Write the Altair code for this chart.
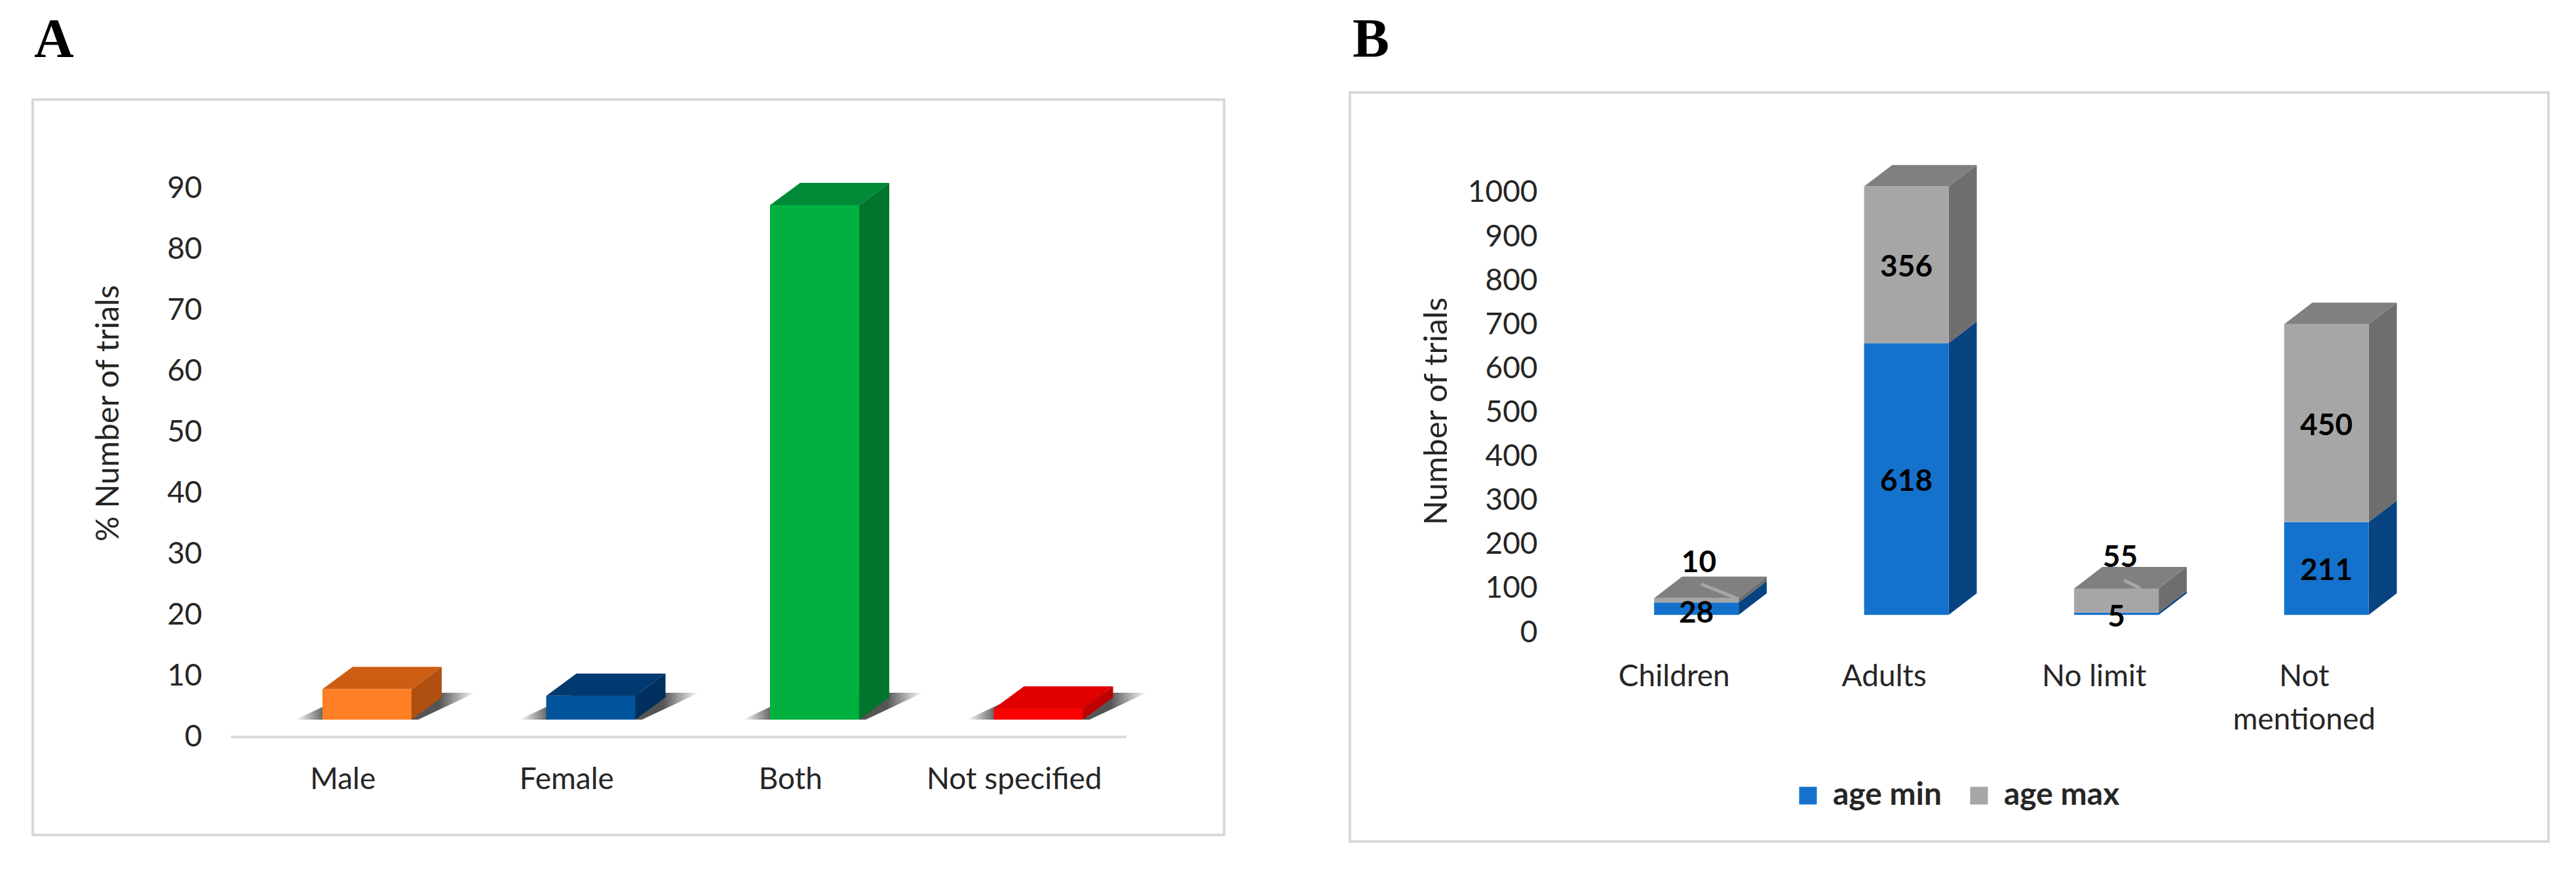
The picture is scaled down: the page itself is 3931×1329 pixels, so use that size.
import altair as alt
import pandas as pd

# ---------- data ----------
sex_categories = ["Male", "Female", "Both", "Not specified"]
sex_values = [5.0, 3.9, 84.4, 1.8]
sex_front = ["#FF7F24", "#00549B", "#00B140", "#FF0000"]
sex_top = ["#CC5E14", "#003A70", "#008A38", "#E00000"]
sex_side = ["#B05010", "#002F60", "#00752C", "#C00000"]

age_categories = ["Children", "Adults", "No limit", "Not mentioned"]
age_min = [28, 618, 5, 211]
age_max = [10, 356, 55, 450]
min_label_nudge = [-5, 0, -2.5, 0]
max_label_nudge = [91, 0, 103, 0]
max_label_x_nudge = [0.012, 0, 0.018, 0]
series_names = ["age min", "age max"]
series_colors = ["#1572CC", "#A6A6A6"]

FONT = "Lato"
LABEL = 46
GREY = "#D9D9D9"
TEXT = "#262626"


def faces(rows, left, width, dx, dy):
    """Side and top faces of one extruded bar stack."""
    out = []
    for i, (b, t, side) in enumerate(rows["segments"]):
        xr = rows["i"] + left + width
        name = f'{rows["i"]}-{i}'
        out += [
            dict(face=name + "s", shade=side, x=xr, low=b, high=t),
            dict(face=name + "s", shade=side, x=xr + dx, low=b + dy, high=t + dy),
        ]
    xl = rows["i"] + left
    xr = xl + width
    t = rows["segments"][-1][1]
    name = f'{rows["i"]}t'
    c = rows["top"]
    out += [
        dict(face=name, shade=c, x=xl, low=t, high=t),
        dict(face=name, shade=c, x=xl + dx, low=t, high=t + dy),
        dict(face=name, shade=c, x=xr, low=t, high=t + dy),
        dict(face=name, shade=c, x=xr + dx, low=t + dy, high=t + dy),
    ]
    return out


def frame(x1, x2, y1, y2):
    return alt.Chart(pd.DataFrame({"a": [0]})).mark_rect(
        fillOpacity=0, stroke=GREY, strokeWidth=4
    ).encode(x=alt.value(x1), x2=alt.value(x2), y=alt.value(y1), y2=alt.value(y2))


def letter(text, x, y):
    return alt.Chart(pd.DataFrame({"t": [text]})).mark_text(
        font="Liberation Serif", fontWeight="bold", fontSize=84, color="black",
        align="left", baseline="alphabetic",
    ).encode(text="t:N", x=alt.value(x), y=alt.value(y))


# ---------- panel A ----------
A_W, A_H = 1366, 837
a_x = alt.Scale(domain=[0, 4], nice=False, zero=False)
a_y = alt.Scale(domain=[0, 90], nice=False, zero=False)
A_LEFT, A_BAR, A_DX, A_DY, A_BASE = 0.41, 0.398, 0.135, 3.65, 2.8

a_front, a_faces, a_shadow = [], [], []
for i, v in enumerate(sex_values):
    a_front.append(dict(x=i + A_LEFT, x2=i + A_LEFT + A_BAR, y=A_BASE, y2=A_BASE + v, shade=sex_front[i]))
    a_faces += faces(dict(i=i, segments=[(A_BASE, A_BASE + v, sex_side[i])], top=sex_top[i]),
                     A_LEFT, A_BAR, A_DX, A_DY)
    l = i + A_LEFT - 0.12
    r = i + A_LEFT + A_BAR + 0.03
    s = 0.255
    a_shadow += [
        dict(b=i, x=l, low=A_BASE, high=A_BASE),
        dict(b=i, x=l + s, low=A_BASE, high=A_BASE + 4.4),
        dict(b=i, x=r, low=A_BASE, high=A_BASE + 4.4),
        dict(b=i, x=r + s, low=A_BASE + 4.4, high=A_BASE + 4.4),
    ]

a_axis_x = alt.Axis(
    values=[0.5, 1.5, 2.5, 3.5], title=None, grid=False, ticks=False,
    domainColor=GREY, domainWidth=4, labelFont=FONT, labelFontSize=LABEL, labelColor=TEXT,
    labelPadding=43, labelLimit=0, labelOverlap=False,
    labelExpr="['Male','Female','Both','Not specified'][floor(datum.value)]",
)
a_axis_y = alt.Axis(
    values=list(range(0, 100, 10)), title="% Number of trials", grid=False, ticks=False, domain=False,
    labelFont=FONT, labelFontSize=LABEL, labelColor=TEXT, labelPadding=44, format="d",
    titleFont=FONT, titleFontSize=48, titleFontWeight="normal", titleColor=TEXT,
    titleX=-186, titleY=343, titleBaseline="middle",
)

shadow_fill = alt.Gradient(
    gradient="linear", x1=0, x2=1, y1=0, y2=0,
    stops=[alt.GradientStop(offset=0, color="#FFFFFF"),
           alt.GradientStop(offset=0.17, color="#555555"),
           alt.GradientStop(offset=0.8, color="#555555"),
           alt.GradientStop(offset=1, color="#FFFFFF")],
)

a_shadow_layer = alt.Chart(pd.DataFrame(a_shadow)).mark_area(
    color=shadow_fill, orient="vertical", clip=False
).encode(
    x=alt.X("x:Q", scale=a_x, axis=a_axis_x),
    y=alt.Y("high:Q", scale=a_y, axis=a_axis_y),
    y2="low:Q",
    detail="b:N",
)
a_face_layer = alt.Chart(pd.DataFrame(a_faces)).mark_area(orient="vertical").encode(
    x=alt.X("x:Q", scale=a_x),
    y=alt.Y("high:Q", scale=a_y),
    y2="low:Q",
    detail="face:N",
    fill=alt.Fill("shade:N", scale=None),
)
a_front_layer = alt.Chart(pd.DataFrame(a_front)).mark_rect().encode(
    x=alt.X("x:Q", scale=a_x),
    x2="x2:Q",
    y=alt.Y("y2:Q", scale=a_y),
    y2="y:Q",
    fill=alt.Fill("shade:N", scale=None),
)
panel_a = alt.layer(
    frame(-302, 1516, -135, 987), letter("A", -300, -200),
    a_shadow_layer, a_face_layer, a_front_layer,
).properties(width=A_W, height=A_H)

# ---------- panel B ----------
B_W, B_H = 1282, 678
b_x = alt.Scale(domain=[0, 4], nice=False, zero=False)
b_y = alt.Scale(domain=[0, 1010.43], nice=False, zero=False)
B_LEFT, B_BAR, B_DX, B_DY, B_BASE = 0.406, 0.4025, 0.134, 49, 40

b_front, b_faces, b_text = [], [], []
for i, (lo, hi) in enumerate(zip(age_min, age_max)):
    m = B_BASE + lo
    t = m + hi
    xl = i + B_LEFT
    xr = xl + B_BAR
    b_front.append(dict(x=xl, x2=xr, y=B_BASE, y2=m, series=series_names[0]))
    b_front.append(dict(x=xl, x2=xr, y=m, y2=t, series=series_names[1]))
    b_faces += faces(dict(i=i, segments=[(B_BASE, m, "#084482"), (m, t, "#6E6E6E")], top="#808080"),
                     B_LEFT, B_BAR, B_DX, B_DY)
    mid = xl + B_BAR / 2
    b_text.append(dict(x=mid, y=(B_BASE + m) / 2 + min_label_nudge[i], t=str(lo)))
    b_text.append(dict(x=mid + max_label_x_nudge[i], y=(m + t) / 2 + max_label_nudge[i], t=str(hi)))

leader_x = [0.63, 2.643]
leader_x2 = [0.808, 2.724]
leader_y = [110, 119]
leader_y2 = [76, 100]

b_axis_x = alt.Axis(
    values=[0.5, 1.5, 2.5, 3.5], title=None, grid=False, ticks=False, domain=False,
    labelFont=FONT, labelFontSize=LABEL, labelColor=TEXT, labelPadding=45, labelLimit=0,
    labelOverlap=False, labelLineHeight=66,
    labelExpr="['Children','Adults','No limit',['Not','mentioned']][floor(datum.value)]",
)
b_axis_y = alt.Axis(
    values=list(range(0, 1100, 100)), title="Number of trials", grid=False, ticks=False, domain=False,
    labelFont=FONT, labelFontSize=LABEL, labelColor=TEXT, labelPadding=48, format="d",
    titleFont=FONT, titleFontSize=49, titleFontWeight="normal", titleColor=TEXT,
    titleX=-202, titleY=340, titleBaseline="middle",
)

b_face_layer = alt.Chart(pd.DataFrame(b_faces)).mark_area(orient="vertical").encode(
    x=alt.X("x:Q", scale=b_x, axis=b_axis_x),
    y=alt.Y("high:Q", scale=b_y, axis=b_axis_y),
    y2="low:Q",
    detail="face:N",
    fill=alt.Fill("shade:N", scale=None),
)
b_front_layer = alt.Chart(pd.DataFrame(b_front)).mark_rect().encode(
    x=alt.X("x:Q", scale=b_x),
    x2="x2:Q",
    y=alt.Y("y2:Q", scale=b_y),
    y2="y:Q",
    color=alt.Color(
        "series:N",
        scale=alt.Scale(domain=series_names, range=series_colors),
        legend=alt.Legend(
            title=None, orient="none", direction="horizontal", legendX=341, legendY=903,
            symbolType="square", symbolSize=729, symbolStrokeWidth=0, labelFont=FONT,
            labelFontSize=48, labelFontWeight="bold", labelColor=TEXT, columns=2,
            columnPadding=32, labelOffset=14, labelLimit=400,
        ),
    ),
)
b_leader = alt.Chart(pd.DataFrame(dict(x=leader_x, x2=leader_x2, y=leader_y, y2=leader_y2))).mark_rule(
    color="#A6A6A6", strokeWidth=5
).encode(
    x=alt.X("x:Q", scale=b_x), x2="x2:Q", y=alt.Y("y:Q", scale=b_y), y2="y2:Q",
)
b_label = alt.Chart(pd.DataFrame(b_text)).mark_text(
    font=FONT, fontSize=LABEL, fontWeight="bold", color="black", baseline="middle", align="center", dy=4
).encode(x=alt.X("x:Q", scale=b_x), y=alt.Y("y:Q", scale=b_y), text="t:N")

panel_b = alt.layer(
    frame(-334, 1495, -146, 997), letter("B", -330, -200),
    b_face_layer, b_front_layer, b_leader, b_label,
).properties(width=B_W, height=B_H)

chart = alt.hconcat(panel_a, panel_b, spacing=188).properties(
    padding={"left": 40, "top": 12, "right": 0, "bottom": 0},
    background="white",
).configure_view(stroke=None).resolve_scale(fill="independent", color="independent")

chart.save("out.html", embed_options={"renderer": "svg", "actions": False})
